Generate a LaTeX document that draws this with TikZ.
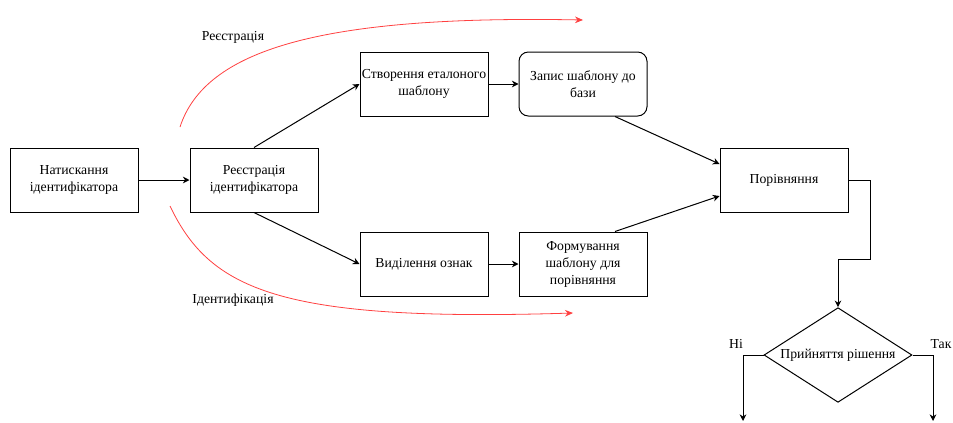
\documentclass[tikz,border=0pt]{standalone}
\usepackage{fontspec}
\setmainfont{Liberation Serif}
\usetikzlibrary{arrows.meta,positioning,shapes.geometric}
\definecolor{flowred}{RGB}{255, 64, 64}

\begin{document}
\begin{tikzpicture}[
  x=0.75pt,y=-0.75pt,
  every node/.style={font=\fontsize{10.3}{12.75}\selectfont},
  box/.style={draw,line width=0.75pt,minimum width=96pt,minimum height=48pt,
              align=center,inner sep=1pt},
  arr/.style={-{Stealth[length=5pt,width=5pt]},line width=0.75pt},
  redarr/.style={-{Stealth[length=6pt,width=5pt]},flowred,line width=0.6pt}
]
  \useasboundingbox (0,0) rectangle (953,422);
  \node[box] (press) at (74,180) {Натискання\\ідентифікатора};
  \node[box] (reg) at (254,180) {Реєстрація\\ідентифікатора};
  \node[box] (create) at (424,84) {Створення еталоного\\шаблону};
  \node[box,rounded corners=7pt] (store) at (583,84) {Запис шаблону до\\бази};
  \node[box] (feat) at (424,264) {Виділення ознак};
  \node[box] (form) at (583,264) {Формування\\шаблону для\\порівняння};
  \node[box] (cmp) at (784,180) {Порівняння};
  \node[draw,line width=0.75pt,diamond,aspect=1.56,minimum width=111pt,
        minimum height=71pt,inner sep=0pt] (dec) at (838,355) {Прийняття рішення};

  \draw[arr] (press) -- (reg);
  \draw[arr] (reg.north) -- (create.west);
  \draw[arr] (reg.south) -- (feat.west);
  \draw[arr] (create) -- (store);
  \draw[arr] (feat) -- (form);
  \draw[arr] ([xshift=24pt]store.south) -- ([yshift=12pt]cmp.west);
  \draw[arr] ([xshift=24pt]form.north) -- ([yshift=-12pt]cmp.west);
  \draw[arr] (cmp.east) -- ++(22,0) -- ++(0,79) -| (dec.north);

  \coordinate (no) at (743,421);
  \coordinate (yes) at (933,421);
  \draw[arr] (dec.west) -| (no);
  \draw[arr] (dec.east) -| (yes);
  \node at (736,344) {Ні};
  \node[anchor=east,inner sep=1pt] at (953,344) {Так};

  % red flows
  \coordinate (regstart) at (180,127);
  \coordinate (regend) at (583,20);
  \draw[redarr] (regstart) .. controls (205,50) and (320,15) .. (regend);
  \node at (233,37) {Реєстрація};
  \coordinate (idstart) at (170,206);
  \coordinate (idend) at (573,313);
  \draw[redarr] (idstart) .. controls (210,290) and (280,322) .. (idend);
  \node at (233,300) {Ідентифікація};
\end{tikzpicture}
\end{document}
